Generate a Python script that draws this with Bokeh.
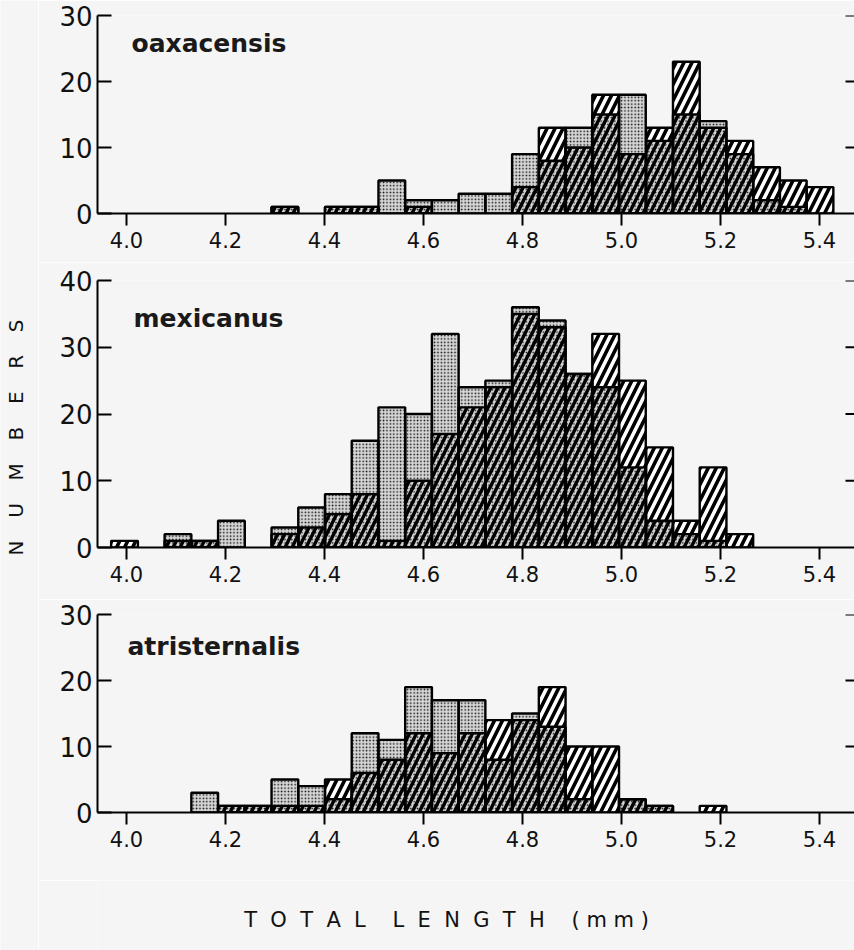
import numpy as np
from bokeh.plotting import figure
from bokeh.models import Range1d, FixedTicker, Label
from bokeh.layouts import row, column
from bokeh.embed import file_html
from bokeh.resources import INLINE
from bokeh.core.properties import value

# ---------------- data ----------------
bin_left = [3.969, 4.023, 4.077, 4.131, 4.185, 4.239, 4.293, 4.347, 4.401,
            4.455, 4.509, 4.563, 4.617, 4.671, 4.725, 4.779, 4.833, 4.887,
            4.941, 4.995, 5.050, 5.104, 5.158, 5.212, 5.266, 5.320, 5.374]
bin_width = 0.054

species = ["oaxacensis", "mexicanus", "atristernalis"]

# stippled series
oax_stip = [0, 0, 0, 0, 0, 0, 1, 0, 1, 1, 5, 2, 2, 3, 3, 9, 8, 13, 15, 18, 11, 15, 14, 9, 2, 1, 0]
mex_stip = [0, 0, 2, 1, 4, 0, 3, 6, 8, 16, 21, 20, 32, 24, 25, 36, 34, 26, 24, 12, 4, 2, 1, 0, 0, 0, 0]
atr_stip = [0, 0, 0, 3, 1, 1, 5, 4, 2, 12, 11, 19, 17, 17, 8, 15, 13, 2, 0, 2, 1, 0, 0, 0, 0, 0, 0]
# hatched series
oax_hatch = [0, 0, 0, 0, 0, 0, 1, 0, 1, 1, 0, 1, 0, 0, 0, 4, 13, 10, 18, 9, 13, 23, 13, 11, 7, 5, 4]
mex_hatch = [1, 0, 1, 1, 0, 0, 2, 3, 5, 8, 1, 10, 17, 21, 24, 35, 33, 26, 32, 25, 15, 4, 12, 2, 0, 0, 0]
atr_hatch = [0, 0, 0, 0, 1, 1, 1, 1, 5, 6, 8, 12, 9, 12, 14, 14, 19, 10, 10, 2, 1, 0, 1, 0, 0, 0, 0]

x_ticks = [4.0, 4.2, 4.4, 4.6, 4.8, 5.0, 5.2, 5.4]
x_tick_labels = ["4.0", "4.2", "4.4", "4.6", "4.8", "5.0", "5.2", "5.4"]
y_ticks_30 = [0, 10, 20, 30]
y_ticks_40 = [0, 10, 20, 30, 40]

NB = "\u00a0"
y_title = ("\u2002" + NB * 2).join("NUMBERS")
x_title = (NB * 4).join([(NB * 2).join("TOTAL"), (NB * 2).join("LENGTH"), NB.join("(mm)")])

# ---------------- style ----------------
BG = "#f5f5f5"
FONT = "DejaVu Sans"
LEFT_W = 38
PANEL_W = 854 - LEFT_W
BORDER_L = 59
PX_PER_MM = 495.0
FRAME_W = PANEL_W - BORDER_L
X0 = 4.0 - 29.0 / PX_PER_MM
X1 = X0 + FRAME_W / PX_PER_MM
xr = Range1d(X0, X1)


def panel(name, stip, hatch, ymax, yticks, height, btop, bbot, lab_px, lab_y):
    p = figure(width=PANEL_W, height=height, x_range=xr, y_range=Range1d(0, ymax),
               output_backend="svg", toolbar_location=None,
               min_border_left=BORDER_L, min_border_right=0,
               min_border_top=btop, min_border_bottom=bbot,
               background_fill_color=BG, border_fill_color=BG,
               outline_line_color=None)
    p.grid.visible = False

    left = np.array(bin_left)
    right = left + bin_width
    s = np.array(stip, dtype=float)
    h = np.array(hatch, dtype=float)
    ov = np.minimum(s, h)

    # stippled bars
    m = s > 0
    p.quad(left=left[m], right=right[m], bottom=0, top=s[m],
           fill_color="#d6d6d6", hatch_pattern=".", hatch_scale=3.4,
           hatch_weight=1.8, hatch_color="#111111", line_color=None)
    # overlap of both series
    m = ov > 0
    p.quad(left=left[m], right=right[m], bottom=0, top=ov[m],
           fill_alpha=0, hatch_pattern="/", hatch_scale=14, hatch_weight=3.4,
           hatch_color="black", line_color=None)
    # hatched-only part
    m = h > s
    p.quad(left=left[m], right=right[m], bottom=s[m], top=h[m],
           fill_color="white", hatch_pattern="/", hatch_scale=16, hatch_weight=3.6,
           hatch_color="black", line_color=None)
    # outlines
    m = s > 0
    p.quad(left=left[m], right=right[m], bottom=0, top=s[m],
           fill_alpha=0, line_color="black", line_width=2.4)
    m = h > 0
    p.quad(left=left[m], right=right[m], bottom=0, top=h[m],
           fill_alpha=0, line_color="black", line_width=2.4)

    # short inward ticks on the right edge
    rt = [t for t in yticks if t > 0]
    p.segment(x0=[X1 - 9.0 / PX_PER_MM] * len(rt), x1=[X1] * len(rt), y0=rt, y1=rt,
              line_color="black", line_width=2)

    xa = p.xaxis[0]
    xa.ticker = FixedTicker(ticks=x_ticks)
    xa.major_label_overrides = {t: l for t, l in zip(x_ticks, x_tick_labels)}
    xa.major_tick_in = 0
    xa.major_tick_out = 12
    xa.minor_tick_line_color = None
    xa.axis_line_width = 2
    xa.major_tick_line_width = 2
    xa.major_label_text_font = FONT
    xa.major_label_text_font_size = "21px"
    xa.major_label_text_color = "#111111"
    xa.major_label_standoff = 6

    ya = p.yaxis[0]
    ya.ticker = FixedTicker(ticks=yticks)
    ya.major_tick_in = 14
    ya.major_tick_out = 0
    ya.minor_tick_line_color = None
    ya.axis_line_width = 2
    ya.major_tick_line_width = 2
    ya.major_label_text_font = FONT
    ya.major_label_text_font_size = "26px"
    ya.major_label_text_color = "#111111"
    ya.major_label_standoff = 5

    p.add_layout(Label(x=X0 + (lab_px - 97) / PX_PER_MM, y=lab_y, text=name,
                       text_font=FONT, text_font_size="25px", text_font_style="bold",
                       text_color="#1a1a1a",
                       text_baseline="alphabetic", text_align="left"))
    return p


f1 = panel(species[0], oax_stip, oax_hatch, 30, y_ticks_30, 262, 15, 49, 131, 25.8)
f2 = panel(species[1], mex_stip, mex_hatch, 40, y_ticks_40, 337, 18, 52, 133, 34.3)
f3 = panel(species[2], atr_stip, atr_hatch, 30, y_ticks_30, 281, 15, 68, 127, 25.2)

FT_H = 70
TOTAL_H = 262 + 337 + 281 + FT_H

ft = figure(width=PANEL_W, height=FT_H, x_range=xr, y_range=Range1d(0, FT_H),
            output_backend="svg", toolbar_location=None,
            min_border_left=BORDER_L, min_border_right=0, min_border_top=0, min_border_bottom=0,
            background_fill_color=BG, border_fill_color=BG, outline_line_color=None)
ft.axis.visible = False
ft.grid.visible = False
ft.text(x=[X0 + (446 - 97) / PX_PER_MM], y=[FT_H - (919 - 880)], text=[x_title],
        text_font=value(FONT), text_font_size="21px", text_align="center",
        text_baseline="middle", text_color="#111111")

fl = figure(width=LEFT_W, height=TOTAL_H, x_range=Range1d(0, LEFT_W), y_range=Range1d(0, TOTAL_H),
            output_backend="svg", toolbar_location=None, min_border=0,
            background_fill_color=BG, border_fill_color=BG, outline_line_color=None)
fl.axis.visible = False
fl.grid.visible = False
fl.text(x=[15], y=[TOTAL_H - 437], text=[y_title], angle=np.pi / 2,
        text_font=value(FONT), text_font_size="20px",
        text_align="center", text_baseline="middle", text_color="#111111")

layout = row(fl, column(f1, f2, f3, ft))

open("out.html", "w").write(file_html(layout, INLINE))
